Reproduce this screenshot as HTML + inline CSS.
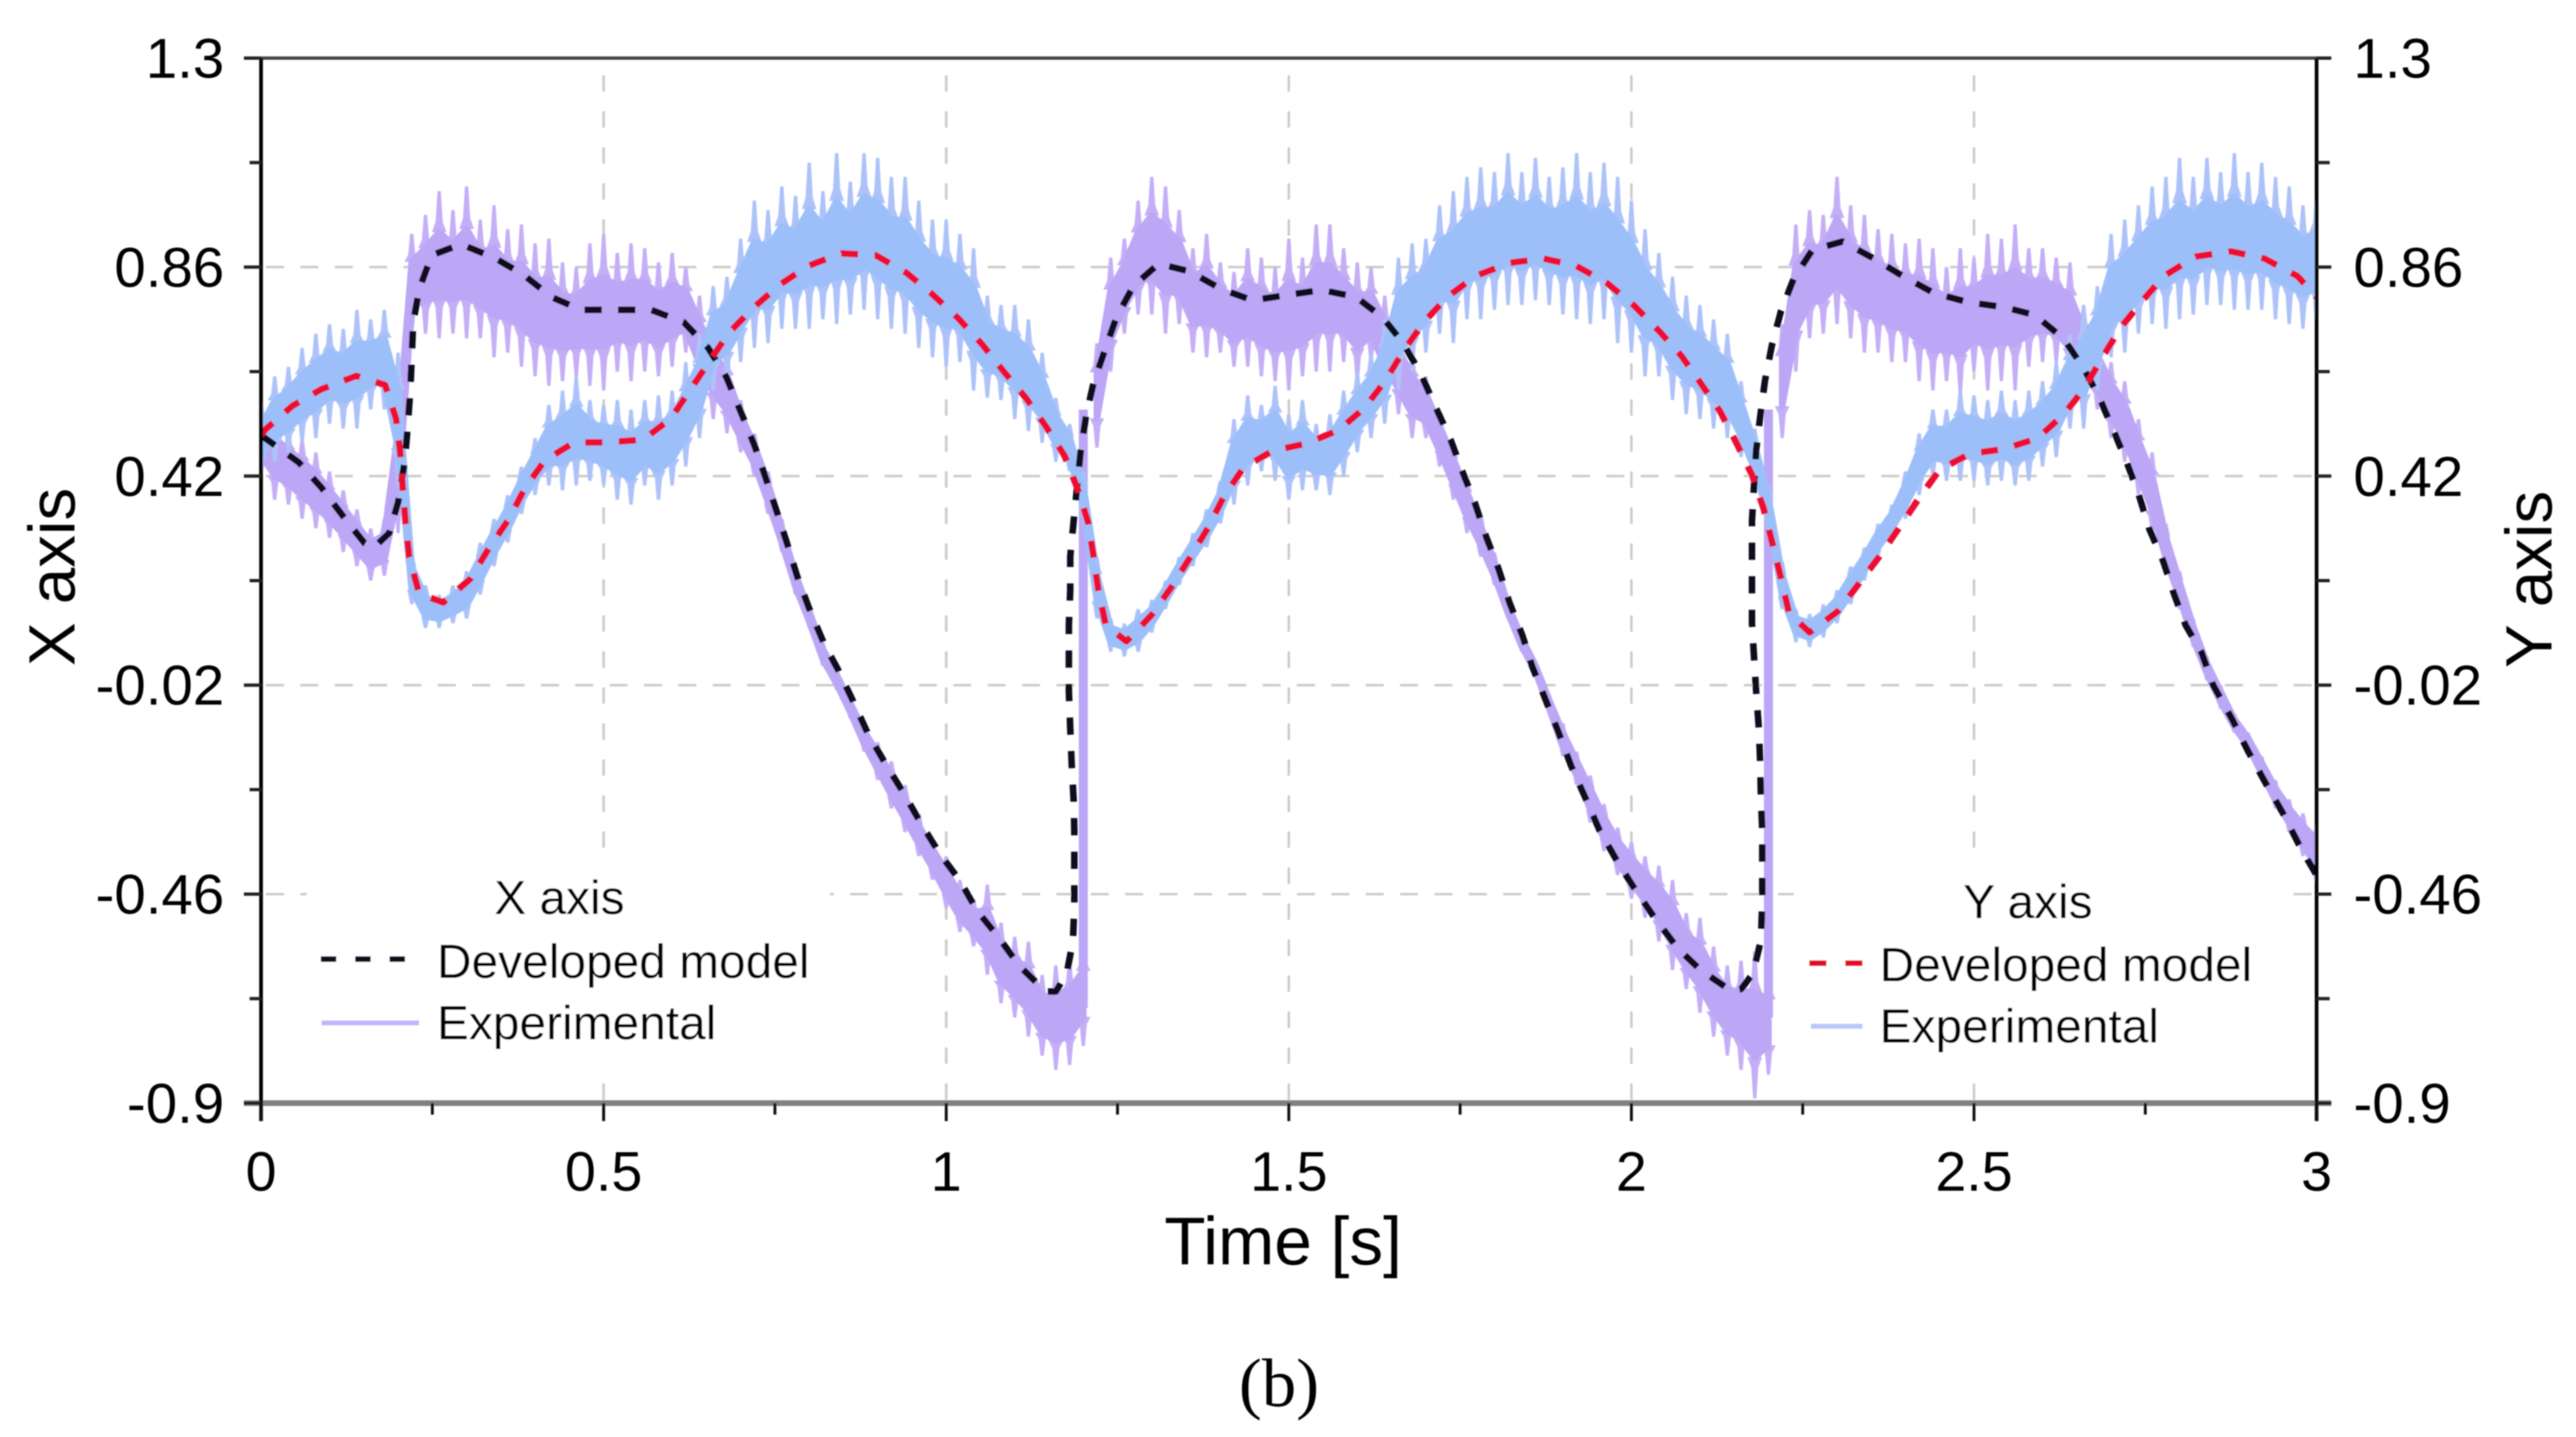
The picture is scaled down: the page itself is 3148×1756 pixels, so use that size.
<!DOCTYPE html>
<html lang="en">
<head>
<meta charset="utf-8">
<title>X and Y axis: developed model vs experimental</title>
<style>
html,body{margin:0;padding:0;background:#fff;width:3148px;height:1756px;overflow:hidden}
svg{display:block}
text{font-family:"Liberation Sans",Arial,sans-serif;fill:#000}
</style>
</head>
<body>
<svg id="chart" xmlns="http://www.w3.org/2000/svg" width="3148" height="1756" viewBox="0 0 3148 1756">
  <defs>
    <filter id="soft" x="0" y="0" width="100%" height="100%" filterUnits="userSpaceOnUse" primitiveUnits="userSpaceOnUse"><feGaussianBlur stdDeviation="0.9"/></filter>
    <clipPath id="plot-clip"><rect x="319" y="71" width="2512" height="1277"/></clipPath>
  </defs>
  <g id="root" filter="url(#soft)">
    <g id="grid"></g>
    <rect x="375" y="1044" width="639" height="262" fill="#fff"/>
    <rect x="2192" y="1044" width="596" height="280" fill="#fff"/>
    <g id="series" clip-path="url(#plot-clip)"></g>
    <g id="axes"></g>
    <g>
      <text x="604" y="1117" font-size="58.5">X axis</text>
      <line x1="392" y1="1172" x2="498" y2="1172" stroke="#0c0c1e" stroke-width="7" stroke-dasharray="19 23"/>
      <text x="534" y="1195" font-size="58.5">Developed model</text>
      <line x1="393" y1="1250" x2="512" y2="1250" stroke="#c4b4fa" stroke-width="6"/>
      <text x="534" y="1270" font-size="58.5">Experimental</text>
    </g>
    <g>
      <text x="2399" y="1122" font-size="58.5">Y axis</text>
      <line x1="2211" y1="1177" x2="2276" y2="1177" stroke="#e0102c" stroke-width="7" stroke-dasharray="21 23"/>
      <text x="2297" y="1199" font-size="58.5">Developed model</text>
      <line x1="2213" y1="1254" x2="2276" y2="1254" stroke="#b8c8f8" stroke-width="6"/>
      <text x="2297" y="1274" font-size="58.5">Experimental</text>
    </g>
    <text x="1568" y="1545" font-size="82.5" text-anchor="middle">Time [s]</text>
    <text transform="translate(91 705) rotate(-90)" font-size="80" text-anchor="middle">X axis</text>
    <text transform="translate(3118 708) rotate(-90)" font-size="80" text-anchor="middle">Y axis</text>
    <text x="1563" y="1718" font-size="84" text-anchor="middle" style="font-family:'Liberation Serif',serif">(b)</text>
  </g>
</svg>
<script>
const xTicks = [0, 0.5, 1, 1.5, 2, 2.5, 3];
const xTickLabels = ["0", "0.5", "1", "1.5", "2", "2.5", "3"];
const xMinorTicks = [0.25, 0.75, 1.25, 1.75, 2.25, 2.75];
const xGrid = [0.5, 1, 1.5, 2, 2.5];
const yTicks = [1.3, 0.86, 0.42, -0.02, -0.46, -0.9];
const yTickLabels = ["1.3", "0.86", "0.42", "-0.02", "-0.46", "-0.9"];
const yMinorTicks = [1.08, 0.64, 0.2, -0.24, -0.68];
const yGrid = [0.86, 0.42, -0.02, -0.46];

const xModelT = [0,.055,.088,.12,.151,.164,.187,.2,.21,.214,.218,.22,.222,.231,.249,.292,.34,.382,.424,.467,.52,.569,.617,.652,.679,.699,.719,.734,.75,.766,.782,.799,.822,.843,.864,.885,.911,.936,.963,.99,1.02,1.045,1.077,1.106,1.145,1.16,1.176,1.185,1.187,1.187,1.187,1.186,1.183,1.181,1.179,1.179,1.179,1.181,1.181,1.186,1.196,1.204,1.215,1.232,1.248,1.273,1.31,1.355,1.401,1.447,1.497,1.548,1.598,1.637,1.667,1.693,1.715,1.736,1.753,1.772,1.788,1.806,1.822,1.841,1.855,1.874,1.893,1.912,1.933,1.954,1.979,2.004,2.034,2.067,2.101,2.146,2.16,2.177,2.189,2.191,2.191,2.191,2.189,2.188,2.186,2.182,2.176,2.176,2.176,2.176,2.182,2.188,2.195,2.205,2.218,2.237,2.264,2.308,2.354,2.396,2.442,2.492,2.543,2.589,2.631,2.66,2.683,2.704,2.723,2.74,2.756,2.776,2.792,2.809,2.832,2.849,2.876,2.9,2.926,2.951,2.977,3];
const xModelV = [.506,.449,.396,.335,.279,.269,.30,.365,.453,.524,.603,.673,.744,.814,.885,.908,.88,.845,.797,.77,.77,.77,.744,.691,.629,.559,.489,.427,.357,.286,.211,.145,.066,.01,-.054,-.12,-.185,-.243,-.311,-.374,-.432,-.495,-.552,-.61,-.665,-.665,-.626,-.558,-.485,-.4,-.327,-.264,-.185,-.111,-.033,.049,.106,.18,.251,.326,.471,.546,.616,.687,.753,.82,.867,.851,.814,.79,.801,.812,.797,.754,.70,.634,.563,.497,.431,.361,.292,.225,.154,.084,.02,-.048,-.117,-.19,-.258,-.327,-.39,-.447,-.51,-.573,-.62,-.664,-.66,-.628,-.558,-.474,-.4,-.327,-.258,-.185,-.111,-.033,.11,.19,.255,.326,.475,.546,.621,.695,.766,.836,.896,.914,.878,.841,.805,.786,.776,.759,.709,.647,.585,.515,.449,.383,.308,.242,.172,.106,.049,-.02,-.09,-.159,-.227,-.29,-.363,-.42];

const yModelT = [0,.007,.046,.088,.139,.181,.197,.203,.207,.211,.216,.231,.266,.305,.333,.362,.384,.414,.457,.506,.558,.598,.627,.656,.683,.719,.757,.799,.847,.897,.942,.979,1.017,1.052,1.084,1.116,1.145,1.173,1.191,1.207,1.215,1.222,1.233,1.263,1.3,1.328,1.355,1.382,1.405,1.434,1.476,1.527,1.573,1.61,1.64,1.669,1.698,1.732,1.772,1.822,1.872,1.919,1.964,2.004,2.04,2.073,2.101,2.13,2.153,2.176,2.193,2.206,2.218,2.23,2.26,2.301,2.332,2.363,2.392,2.42,2.45,2.494,2.544,2.593,2.631,2.66,2.687,2.713,2.744,2.777,2.823,2.875,2.924,2.972,3];
const yModelV = [.506,.519,.568,.603,.631,.612,.541,.471,.392,.321,.251,.172,.154,.203,.269,.33,.392,.453,.491,.491,.497,.541,.603,.665,.722,.775,.823,.863,.889,.885,.848,.804,.753,.698,.64,.585,.526,.462,.396,.323,.251,.18,.106,.072,.128,.185,.247,.311,.377,.438,.473,.489,.517,.563,.619,.687,.746,.798,.841,.869,.878,.863,.827,.779,.726,.673,.616,.555,.491,.423,.352,.277,.207,.132,.091,.135,.194,.253,.314,.374,.434,.467,.477,.5,.55,.603,.669,.731,.786,.841,.882,.893,.878,.841,.797];

/* Experimental records: highest and lowest reading in each 0.02 s sample */
const expStep = 0.02;
const xExpHi = [
.58,.55,.52,.50,.47,.43,.39,.35,.31,.33,
.60,.93,.97,1.02,.98,1.03,.96,.99,.94,.95,
.91,.92,.87,.86,.91,.93,.89,.91,.90,.87,
.89,.86,.80,.74,.68,.58,.51,.43,.33,.23,
.15,.07,.015,-.045,-.10,-.14,-.18,-.23,-.29,-.34,
-.38,-.43,-.47,-.44,-.52,-.55,-.56,-.63,-.61,-.60,
-.56,.70,.88,.92,1.0,1.05,1.03,.98,.90,.93,
.87,.85,.90,.88,.86,.92,.88,.95,.95,.90,
.87,.86,.80,.74,.68,.63,.56,.49,.42,.34,
.26,.16,.09,.03,-.04,-.10,-.16,-.21,-.27,-.32,
-.35,-.38,-.40,-.43,-.50,-.51,-.57,-.61,-.60,-.58,
-.62,.74,.95,.98,.97,1.05,.99,.97,.94,.93,
.91,.92,.90,.86,.90,.88,.93,.92,.95,.90,
.90,.88,.87,.78,.72,.66,.62,.54,.47,.32,
.22,.12,.04,-.02,-.08,-.12,-.17,-.22,-.26,-.29,
-.31];
const xExpLo = [
.42,.37,.36,.33,.31,.29,.26,.23,.20,.21,
.30,.72,.72,.71,.72,.71,.71,.67,.68,.65,
.63,.61,.62,.63,.61,.60,.64,.62,.64,.63,
.65,.68,.60,.54,.51,.47,.42,.34,.26,.17,
.10,.02,-.03,-.09,-.16,-.22,-.28,-.33,-.38,-.43,
-.49,-.54,-.57,-.63,-.69,-.72,-.76,-.80,-.83,-.82,
-.78,.48,.64,.72,.76,.76,.72,.74,.68,.67,
.68,.65,.65,.63,.62,.60,.63,.64,.64,.66,
.62,.66,.60,.55,.50,.50,.44,.37,.30,.25,
.19,.12,.05,.0,-.08,-.17,-.23,-.31,-.37,-.42,
-.47,-.51,-.56,-.62,-.66,-.71,-.76,-.80,-.83,-.89,
-.84,.50,.64,.71,.72,.74,.71,.68,.68,.66,
.66,.62,.60,.62,.59,.64,.60,.62,.60,.65,
.66,.66,.62,.60,.56,.50,.45,.38,.30,.22,
.14,.06,-.01,-.07,-.12,-.16,-.22,-.28,-.33,-.38,
-.44];
const yExpHi = [
.56,.63,.65,.69,.72,.74,.73,.77,.75,.77,
.68,.26,.19,.17,.19,.22,.28,.33,.38,.44,
.50,.57,.60,.63,.58,.57,.58,.56,.58,.59,
.60,.66,.72,.82,.84,.92,1.0,.98,1.03,1.01,
1.08,1.02,1.10,1.04,1.10,1.09,1.05,1.05,1.0,.96,
.96,.93,.90,.80,.78,.78,.75,.68,.585,.53,
.43,.25,.12,.11,.14,.16,.20,.25,.30,.35,
.41,.54,.59,.57,.61,.55,.58,.53,.55,.60,
.64,.68,.75,.88,.91,.92,.99,1.02,1.05,1.07,
1.06,1.10,1.06,1.09,1.05,1.07,1.10,1.06,1.08,1.05,
1.0,.94,.89,.84,.80,.78,.75,.72,.62,.52,
.40,.24,.14,.13,.15,.18,.23,.27,.32,.36,
.43,.51,.56,.56,.60,.59,.58,.60,.58,.60,
.62,.66,.72,.78,.82,.93,.96,.99,1.03,1.05,
1.09,1.05,1.09,1.06,1.10,1.06,1.08,1.05,1.03,.99,
1.01];
const yExpLo = [
.43,.45,.47,.49,.50,.53,.52,.52,.56,.56,
.40,.15,.10,.10,.11,.12,.17,.23,.28,.34,
.38,.40,.39,.40,.41,.40,.37,.36,.40,.37,
.40,.44,.50,.60,.62,.66,.69,.70,.73,.73,
.73,.75,.74,.76,.77,.75,.73,.72,.69,.67,
.65,.66,.60,.585,.58,.54,.515,.49,.45,.43,
.33,.12,.05,.04,.05,.09,.14,.19,.23,.27,
.32,.36,.40,.43,.41,.37,.39,.39,.38,.42,
.47,.50,.53,.60,.64,.68,.72,.70,.75,.75,
.77,.78,.78,.79,.78,.76,.75,.74,.75,.70,
.68,.63,.63,.58,.55,.54,.52,.50,.46,.40,
.31,.14,.07,.06,.08,.11,.15,.20,.25,.29,
.33,.38,.42,.41,.41,.41,.40,.41,.40,.41,
.44,.46,.52,.52,.60,.67,.68,.72,.74,.73,
.75,.76,.78,.78,.77,.77,.77,.75,.74,.73,
.74];
/* Near-vertical resets in the X experimental record */
const xJumpT = [1.2, 2.2];
const xJumpLo = [-.7, -.72];
const xJumpHi = [.56, .56];

const NS = "http://www.w3.org/2000/svg";
const X0 = 319, X1 = 2831, Y0 = 71, Y1 = 1348;
const T_MIN = 0, T_MAX = 3, V_MIN = -0.9, V_MAX = 1.3;
function sx(t){ return X0 + (t - T_MIN) / (T_MAX - T_MIN) * (X1 - X0); }
function sy(v){ return Y0 + (V_MAX - v) / (V_MAX - V_MIN) * (Y1 - Y0); }
function fmt(n){ return n.toFixed(1); }
function make(tag, parent, attrs){
  const e = document.createElementNS(NS, tag);
  for (const k in attrs) e.setAttribute(k, attrs[k]);
  parent.appendChild(e);
  return e;
}
const gridG = document.getElementById("grid");
const seriesG = document.getElementById("series");
const axesG = document.getElementById("axes");

yGrid.forEach(function(v){
  const l = make("line", gridG, {x1:X0, y1:sy(v), x2:X1, y2:sy(v), stroke:"#cbcbc8", "stroke-width":3, "stroke-dasharray":"22 20", "stroke-dashoffset":"-6"});
  
  
});
xGrid.forEach(function(t){
  const l = make("line", gridG, {x1:sx(t), y1:92, x2:sx(t), y2:Y1, stroke:"#cbcbc8", "stroke-width":3, "stroke-dasharray":"20 24"});
  
  
});

/* Each sample: a tapered spike above and below the dense core of the signal */
function drawExperimental(hi, lo, breaks, spikeColor, coreColor, name){
  const CORE = 0.22, SHOULDER = 0.29;
  const halfStep = (sx(expStep) - sx(0)) / 2 + 0.6;
  let spikes = "";
  for (let i = 0; i < hi.length; i++){
    const x = sx(i * expStep), mid = (hi[i] + lo[i]) / 2, r = hi[i] - lo[i];
    const rangePx = sy(lo[i]) - sy(hi[i]);
    const flare = Math.min(halfStep, Math.max(3.5, rangePx * 0.09));
    const waist = Math.min(4.4, flare);
    const a = sy(mid + r * CORE), b = sy(mid + r * SHOULDER), c = sy(hi[i]);
    const d = sy(mid - r * CORE), e = sy(mid - r * SHOULDER), f = sy(lo[i]);
    spikes += "M" + fmt(x - flare) + " " + fmt(a) + "L" + fmt(x - waist) + " " + fmt(b) + "L" + fmt(x - 2) + " " + fmt(c)
      + "L" + fmt(x + 2) + " " + fmt(c) + "L" + fmt(x + waist) + " " + fmt(b) + "L" + fmt(x + flare) + " " + fmt(a) + "Z";
    spikes += "M" + fmt(x - flare) + " " + fmt(d) + "L" + fmt(x - waist) + " " + fmt(e) + "L" + fmt(x - 2) + " " + fmt(f)
      + "L" + fmt(x + 2) + " " + fmt(f) + "L" + fmt(x + waist) + " " + fmt(e) + "L" + fmt(x + flare) + " " + fmt(d) + "Z";
  }
  const s = make("path", seriesG, {d:spikes, fill:spikeColor});
  
  
  const edges = [0].concat(breaks, [hi.length]);
  for (let k = 0; k < edges.length - 1; k++){
    let up = [], down = [];
    for (let i = edges[k]; i < edges[k + 1]; i++){
      const mid = (hi[i] + lo[i]) / 2, half = (hi[i] - lo[i]) * CORE;
      up.push(fmt(sx(i * expStep)) + "," + fmt(sy(mid + half)));
      down.unshift(fmt(sx(i * expStep)) + "," + fmt(sy(mid - half)));
    }
    const c = make("polygon", seriesG, {points:up.concat(down).join(" "), fill:coreColor, stroke:coreColor, "stroke-width":8, "stroke-linejoin":"round"});
    
    
  }
}
function drawModel(ts, vs, color, name){
  const pts = ts.map(function(t, i){ return fmt(sx(t)) + "," + fmt(sy(vs[i])); }).join(" ");
  const p = make("polyline", seriesG, {points:pts, fill:"none", stroke:color, "stroke-width":8, "stroke-dasharray":"21 20", "stroke-linejoin":"round"});
  
  
}

drawExperimental(xExpHi, xExpLo, [61, 111], "#c4aff7", "#bca6f6", "x-experimental");
xJumpT.forEach(function(t, i){
  const j = make("line", seriesG, {x1:sx(t), y1:sy(xJumpHi[i]), x2:sx(t), y2:sy(xJumpLo[i]), stroke:"#bca6f6", "stroke-width":11});
  
  
});
drawExperimental(yExpHi, yExpLo, [], "#adc2f9", "#9cbffa", "y-experimental");
drawModel(xModelT, xModelV, "#0c0c1e", "x-developed-model-line");
drawModel(yModelT, yModelV, "#ee1030", "y-developed-model-line");

const topSpine = make("line", axesG, {x1:298, y1:Y0, x2:2849, y2:Y0, stroke:"#444", "stroke-width":4});


const bottomSpine = make("line", axesG, {x1:298, y1:Y1, x2:2849, y2:Y1, stroke:"#808080", "stroke-width":7});


const leftSpine = make("line", axesG, {x1:X0, y1:Y0, x2:X0, y2:1370, stroke:"#000", "stroke-width":4.5});


const rightSpine = make("line", axesG, {x1:X1, y1:Y0, x2:X1, y2:1370, stroke:"#000", "stroke-width":4.5});



yTicks.forEach(function(v, i){
  const a = make("line", axesG, {x1:298, y1:sy(v), x2:X0, y2:sy(v), stroke:"#222", "stroke-width":4});
  
  
  const b = make("line", axesG, {x1:X1, y1:sy(v), x2:2849, y2:sy(v), stroke:"#222", "stroke-width":4});
  
  
  const tl = make("text", axesG, {x:274, y:sy(v) + 24, "font-size":69, "text-anchor":"end"});
  tl.textContent = yTickLabels[i];
  
  
  const tr = make("text", axesG, {x:2876, y:sy(v) + 24, "font-size":69});
  tr.textContent = yTickLabels[i];
  
  
});
yMinorTicks.forEach(function(v){
  const a = make("line", axesG, {x1:305, y1:sy(v), x2:X0, y2:sy(v), stroke:"#222", "stroke-width":4});
  
  
  const b = make("line", axesG, {x1:X1, y1:sy(v), x2:2847, y2:sy(v), stroke:"#222", "stroke-width":4});
  
  
});
xTicks.forEach(function(t, i){
  const a = make("line", axesG, {x1:sx(t), y1:Y1, x2:sx(t), y2:1370, stroke:"#111", "stroke-width":3.5});
  
  
  const l = make("text", axesG, {x:sx(t), y:1455, "font-size":68, "text-anchor":"middle"});
  l.textContent = xTickLabels[i];
  
  
});
xMinorTicks.forEach(function(t){
  const a = make("line", axesG, {x1:sx(t), y1:Y1, x2:sx(t), y2:1362, stroke:"#111", "stroke-width":3.5});
  
  
});
</script>
</body>
</html>
